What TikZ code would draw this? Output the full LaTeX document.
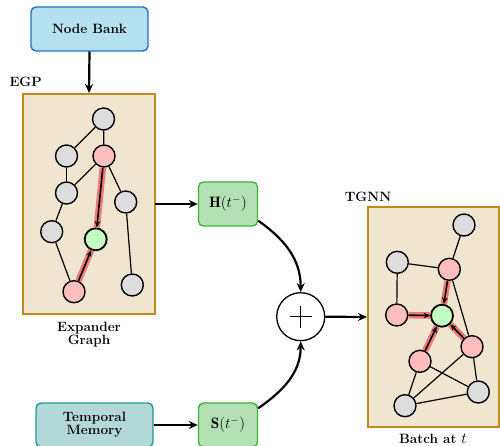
\RequirePackage{fix-cm}
\documentclass[tikz,border=0pt]{standalone}
\usepackage{fontspec}
\usetikzlibrary{arrows.meta}
\definecolor{bankfill}{RGB}{180,224,240}
\definecolor{bankdraw}{RGB}{40,110,200}
\definecolor{memfill}{RGB}{178,216,216}
\definecolor{memdraw}{RGB}{40,150,150}
\definecolor{featfill}{RGB}{180,225,180}
\definecolor{featdraw}{RGB}{60,180,60}
\definecolor{panelfill}{RGB}{240,230,208}
\definecolor{paneldraw}{RGB}{190,140,30}
\definecolor{gnode}{RGB}{221,221,221}
\definecolor{pnode}{RGB}{255,190,190}
\definecolor{tnode}{RGB}{195,255,195}
\definecolor{hl}{RGB}{238,95,95}
\begin{document}
\begin{tikzpicture}[x=1pt,y=-1pt,
  lbl/.style={font=\fontsize{13.5}{15}\selectfont\bfseries},
  box/.style={rectangle,rounded corners=5pt,line width=1.4pt,minimum width=117pt,minimum height=44pt,align=center,font=\fontsize{13.5}{15}\selectfont\bfseries,inner sep=0pt},
  feat/.style={rectangle,rounded corners=5pt,line width=1.4pt,draw=featdraw,fill=featfill,minimum width=59pt,minimum height=44pt,font=\fontsize{13.5}{15}\selectfont,inner sep=0pt},
  panel/.style={draw=paneldraw,fill=panelfill,line width=2pt},
  flow/.style={-{Stealth[length=9pt,width=8pt]},line width=2.2pt},
  gn/.style={circle,draw,line width=1.4pt,minimum size=22pt,inner sep=0pt},
  gray/.style={gn,fill=gnode},
  pink/.style={gn,fill=pnode},
  tgt/.style={gn,fill=tnode,line width=1.8pt},
  ed/.style={line width=1.2pt},
  hlt/.style={line width=6.5pt,hl,opacity=0.8},
  msg/.style={-{Stealth[length=6.5pt,width=5.5pt]},line width=1.6pt}
]
\useasboundingbox (0,0) rectangle (500,446);

% panels
\path[panel] (23,94) rectangle (155,314);
\path[panel] (368,207) rectangle (499,427);
\coordinate (egpE) at (155,204);
\coordinate (egpN) at (89,93);
\coordinate (tgnnW) at (367,317);

% boxes
\node[box,draw=bankdraw,fill=bankfill] (bank) at (89.5,29) {Node Bank};
\node[box,draw=memdraw,fill=memfill] (mem) at (94.5,425) {Temporal\\[-2pt]Memory};
\node[feat] (H) at (228,204) {\scalebox{1.12}{$\mathbf{H}(t^{-})$}};
\node[feat] (S) at (228,425) {\scalebox{1.12}{$\mathbf{S}(t^{-})$}};
\node[circle,draw,line width=1.3pt,minimum size=48pt,inner sep=0pt,fill=white] (plus) at (300.7,316.7) {};
\draw[line width=1pt] (plus.center) ++(-11,0) -- ++(22,0);
\draw[line width=1pt] (plus.center) ++(0,-11) -- ++(0,22);

% labels
\node[lbl,anchor=west] (egpl) at (6,82) {EGP};
\node[lbl] (tgnnl) at (368,197) {TGNN};
\node[lbl,align=center] (expl) at (89,335) {Expander\\[-2pt]Graph};
\node[lbl] (batchl) at (433,439) {Batch at \scalebox{1.12}{$t$}};

% flow arrows
\draw[flow] (bank.south) -- (egpN);
\draw[flow] (egpE) -- (H.west);
\draw[flow] (mem.east) -- (S.west);
\draw[flow] (H.south east) ++(0,-6) to[out=-35,in=90] (plus.north);
\draw[flow] (S.north east) ++(0,6) to[out=35,in=-90] (plus.south);
\draw[flow] (plus.east) -- (tgnnW);

% EGP graph
\node[gray] (e1) at (103.5,119) {};
\node[gray] (e2) at (66.5,156) {};
\node[pink] (e3) at (104,156) {};
\node[gray] (e4) at (66.5,193) {};
\node[gray] (e5) at (125.7,202) {};
\node[gray] (e6) at (51.7,231.7) {};
\node[tgt] (e7) at (95.7,239.3) {};
\node[pink] (e8) at (74,291.7) {};
\node[gray] (e9) at (132.3,285) {};
\draw[ed] (e1) -- (e2);
\draw[ed] (e1) -- (e3);
\draw[ed] (e2) -- (e4);
\draw[ed] (e3) -- (e4);
\draw[ed] (e3) -- (e5);
\draw[ed] (e4) -- (e6);
\draw[ed] (e6) -- (e8);
\draw[ed] (e5) -- (e9);
\draw[hlt] (e3) -- (e7);
\draw[hlt] (e8) -- (e7);
\draw[msg] (e3) -- (e7);
\draw[msg] (e8) -- (e7);

% TGNN graph
\node[gray] (t1) at (464,225) {};
\node[gray] (t2) at (397.3,262.3) {};
\node[pink] (t3) at (449.3,269.3) {};
\node[pink] (t4) at (396.7,315) {};
\node[tgt] (t5) at (442,315.7) {};
\node[pink] (t6) at (472,346.7) {};
\node[pink] (t7) at (420,361.3) {};
\node[gray] (t8) at (478.3,392) {};
\node[gray] (t9) at (405,405.7) {};
\draw[ed] (t1) -- (t3);
\draw[ed] (t2) -- (t3);
\draw[ed] (t2) -- (t4);
\draw[ed] (t3) -- (t6);
\draw[ed] (t7) -- (t8);
\draw[ed] (t7) -- (t9);
\draw[ed] (t6) -- (t9);
\draw[ed] (t6) -- (t8);
\draw[ed] (t9) -- (t8);
\draw[hlt] (t3) -- (t5);
\draw[hlt] (t4) -- (t5);
\draw[hlt] (t7) -- (t5);
\draw[hlt] (t6) -- (t5);
\draw[msg] (t3) -- (t5);
\draw[msg] (t4) -- (t5);
\draw[msg] (t7) -- (t5);
\draw[msg] (t6) -- (t5);
\end{tikzpicture}
\end{document}
